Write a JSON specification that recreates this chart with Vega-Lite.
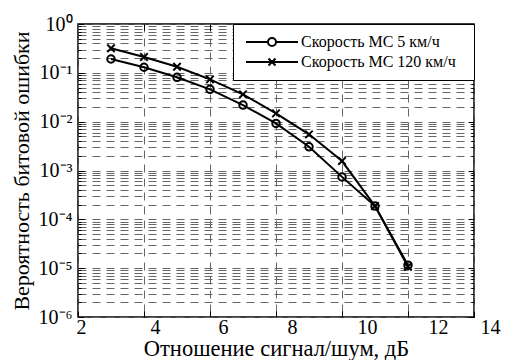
{
  "$schema": "https://vega.github.io/schema/vega-lite/v6.json",
  "width": 396,
  "height": 293,
  "autosize": {"type": "none"},
  "padding": {"left": 78, "top": 24, "right": 41, "bottom": 43},
  "background": "white",
  "config": {
    "view": {"stroke": "black", "strokeWidth": 1.5},
    "font": "'Liberation Serif', 'Times New Roman', serif",
    "axis": {
      "labelFont": "'Liberation Serif', 'Times New Roman', serif",
      "titleFont": "'Liberation Serif', 'Times New Roman', serif",
      "labelColor": "black",
      "titleColor": "black",
      "titleFontWeight": "normal",
      "labelFontSize": 20,
      "titleFontSize": 22,
      "tickColor": "black",
      "domain": false,
      "gridColor": "#666666",
      "gridDash": [8, 6],
      "gridWidth": 1,
      "gridOpacity": 1
    },
    "legend": {
      "labelFont": "'Liberation Serif', 'Times New Roman', serif",
      "titleFont": "'Liberation Serif', 'Times New Roman', serif"
    }
  },
  "data": {
    "values": [
      {"snr": 3, "ber": 0.192, "series": "Скорость МС 5 км/ч"},
      {"snr": 4, "ber": 0.130, "series": "Скорость МС 5 км/ч"},
      {"snr": 5, "ber": 0.081, "series": "Скорость МС 5 км/ч"},
      {"snr": 6, "ber": 0.046, "series": "Скорость МС 5 км/ч"},
      {"snr": 7, "ber": 0.0219, "series": "Скорость МС 5 км/ч"},
      {"snr": 8, "ber": 0.0092, "series": "Скорость МС 5 км/ч"},
      {"snr": 9, "ber": 0.00306, "series": "Скорость МС 5 км/ч"},
      {"snr": 10, "ber": 0.00074, "series": "Скорость МС 5 км/ч"},
      {"snr": 11, "ber": 0.000187, "series": "Скорость МС 5 км/ч"},
      {"snr": 12, "ber": 0.0000115, "series": "Скорость МС 5 км/ч"},
      {"snr": 3, "ber": 0.318, "series": "Скорость МС 120 км/ч"},
      {"snr": 4, "ber": 0.211, "series": "Скорость МС 120 км/ч"},
      {"snr": 5, "ber": 0.133, "series": "Скорость МС 120 км/ч"},
      {"snr": 6, "ber": 0.0735, "series": "Скорость МС 120 км/ч"},
      {"snr": 7, "ber": 0.0363, "series": "Скорость МС 120 км/ч"},
      {"snr": 8, "ber": 0.0148, "series": "Скорость МС 120 км/ч"},
      {"snr": 9, "ber": 0.0055, "series": "Скорость МС 120 км/ч"},
      {"snr": 10, "ber": 0.00156, "series": "Скорость МС 120 км/ч"},
      {"snr": 11, "ber": 0.000187, "series": "Скорость МС 120 км/ч"},
      {"snr": 12, "ber": 0.0000107, "series": "Скорость МС 120 км/ч"}
    ]
  },
  "resolve": {"axis": {"x": "independent", "y": "independent"}},
  "layer": [
    {
      "mark": {"type": "line", "strokeWidth": 2},
      "encoding": {
        "x": {
          "field": "snr", "type": "quantitative",
          "scale": {"domain": [2, 14], "nice": false},
          "axis": {
            "orient": "bottom",
            "values": [2, 4, 6, 8, 10, 12, 14],
            "title": "Отношение сигнал/шум, дБ",
            "titleFontSize": 22.5,
            "titleBaseline": "alphabetic",
            "titleY": 38,
            "tickSize": -6,
            "labelPadding": 6,
            "labelFlush": false,
            "labelOverlap": false,
            "labelOffset": {"condition": [
              {"test": "datum.value == 2", "value": 3},
              {"test": "datum.value == 4", "value": 11},
              {"test": "datum.value == 6", "value": 13},
              {"test": "datum.value == 8", "value": 16},
              {"test": "datum.value == 10", "value": 25},
              {"test": "datum.value == 12", "value": 30}
            ], "value": 16},
            "grid": true
          }
        },
        "y": {
          "field": "ber", "type": "quantitative",
          "scale": {"type": "log", "domain": [0.000001, 1], "nice": false},
          "axis": {
            "orient": "left",
            "values": [0.000001, 0.000002, 0.000003, 0.000004, 0.000005, 0.000006, 0.000007, 0.000008, 0.000009,
                       0.00001, 0.00002, 0.00003, 0.00004, 0.00005, 0.00006, 0.00007, 0.00008, 0.00009,
                       0.0001, 0.0002, 0.0003, 0.0004, 0.0005, 0.0006, 0.0007, 0.0008, 0.0009,
                       0.001, 0.002, 0.003, 0.004, 0.005, 0.006, 0.007, 0.008, 0.009,
                       0.01, 0.02, 0.03, 0.04, 0.05, 0.06, 0.07, 0.08, 0.09,
                       0.1, 0.2, 0.3, 0.4, 0.5, 0.6, 0.7, 0.8, 0.9, 1],
            "title": "Вероятность битовой ошибки",
            "titleFontSize": 22,
            "titlePadding": 5,
            "labelPadding": 12,
            "labelFlush": false,
            "labelOverlap": false,
            "labelExpr": "abs(log(datum.value)/LN10 - round(log(datum.value)/LN10)) < 0.01 ? ('10' + (round(log(datum.value)/LN10) == 0 ? '⁰' : '⁻' + ['⁰','¹','²','³','⁴','⁵','⁶'][-round(log(datum.value)/LN10)])) : ''",
            "tickSize": {"condition": {"test": "abs(log(datum.value)/LN10 - round(log(datum.value)/LN10)) < 0.01", "value": -6}, "value": -3},
            "grid": true
          }
        },
        "stroke": {
          "field": "series", "type": "nominal",
          "scale": {"domain": ["Скорость МС 5 км/ч", "Скорость МС 120 км/ч"], "range": ["black", "black"]},
          "legend": {
            "title": "\u00a0",
            "titleOrient": "right",
            "titlePadding": 8,
            "titleFontSize": 16,
            "orient": "top-right",
            "offset": 0,
            "fillColor": "white",
            "strokeColor": "black",
            "padding": 10,
            "rowPadding": 4,
            "labelFont": "'Liberation Serif', 'Times New Roman', serif",
            "labelFontSize": 16,
            "labelColor": "black",
            "labelOffset": 21,
            "symbolSize": 100,
            "symbolOffset": 21,
            "symbolStrokeWidth": 2,
            "encode": {
              "symbols": {
                "update": {
                  "shape": {"signal": "datum.value === 'Скорость МС 5 км/ч' ? 'M-5.2,0H-0.8M0.8,0H5.2M-0.8,0A0.8,0.8 0 1,0 0.8,0A0.8,0.8 0 1,0 -0.8,0' : 'M-5.2,0H5.2M-0.7,-0.7L0.7,0.7M-0.7,0.7L0.7,-0.7'"},
                  "fill": {"value": "transparent"},
                  "stroke": {"value": "black"},
                  "strokeWidth": {"value": 2}
                }
              }
            }
          }
        }
      }
    },
    {
      "transform": [{"filter": "datum.series === 'Скорость МС 5 км/ч'"}],
      "mark": {"type": "point", "shape": "circle", "filled": false, "strokeWidth": 2, "size": 56, "color": "black", "opacity": 1},
      "encoding": {
        "x": {
          "field": "snr", "type": "quantitative",
          "axis": {
            "orient": "top",
            "values": [4, 6, 8, 10, 12],
            "labels": false,
            "title": null,
            "grid": false,
            "tickSize": -6
          }
        },
        "y": {
          "field": "ber", "type": "quantitative",
          "axis": {
            "orient": "right",
            "values": [0.000001, 0.000002, 0.000003, 0.000004, 0.000005, 0.000006, 0.000007, 0.000008, 0.000009,
                       0.00001, 0.00002, 0.00003, 0.00004, 0.00005, 0.00006, 0.00007, 0.00008, 0.00009,
                       0.0001, 0.0002, 0.0003, 0.0004, 0.0005, 0.0006, 0.0007, 0.0008, 0.0009,
                       0.001, 0.002, 0.003, 0.004, 0.005, 0.006, 0.007, 0.008, 0.009,
                       0.01, 0.02, 0.03, 0.04, 0.05, 0.06, 0.07, 0.08, 0.09,
                       0.1, 0.2, 0.3, 0.4, 0.5, 0.6, 0.7, 0.8, 0.9, 1],
            "labels": false,
            "title": null,
            "grid": false,
            "tickSize": {"condition": {"test": "abs(log(datum.value)/LN10 - round(log(datum.value)/LN10)) < 0.01", "value": -6}, "value": -3}
          }
        }
      }
    },
    {
      "transform": [{"filter": "datum.series === 'Скорость МС 120 км/ч'"}],
      "mark": {"type": "point", "shape": "M-1,-1L1,1M-1,1L1,-1", "filled": false, "strokeWidth": 2, "size": 56, "color": "black", "opacity": 1},
      "encoding": {
        "x": {"field": "snr", "type": "quantitative", "axis": null},
        "y": {"field": "ber", "type": "quantitative", "axis": null}
      }
    }
  ]
}
